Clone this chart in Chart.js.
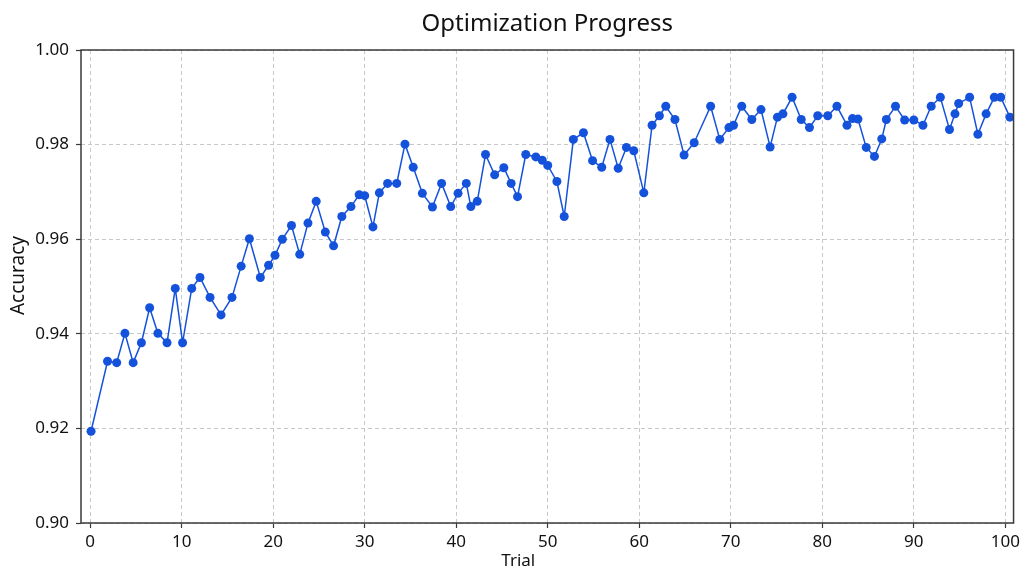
<!DOCTYPE html>
<html>
<head>
<meta charset="utf-8">
<script src="https://cdn.jsdelivr.net/npm/chart.js@4"></script>
<style>
  html, body { margin: 0; padding: 0; background: #fff; }
  #wrap { width: 1024px; height: 576px; }
</style>
</head>
<body>
<div id="wrap"><canvas id="myChart" width="1024" height="576"></canvas></div>
<script>
// trial position of each evaluated point
var trials = [0.1, 1.9, 2.9, 3.8, 4.7, 5.6, 6.5, 7.4, 8.4, 9.3,
    10.1, 11.1, 12.0, 13.1, 14.3, 15.5, 16.5, 17.4, 18.6, 19.5,
    20.2, 21.0, 22.0, 22.9, 23.8, 24.7, 25.7, 26.6, 27.5, 28.5,
    29.4, 30.0, 30.9, 31.6, 32.5, 33.5, 34.4, 35.3, 36.3, 37.4,
    38.4, 39.4, 40.2, 41.1, 41.6, 42.3, 43.2, 44.2, 45.2, 46.0,
    46.7, 47.6, 48.7, 49.4, 50.0, 51.0, 51.8, 52.8, 53.9, 54.9,
    55.9, 56.8, 57.7, 58.6, 59.4, 60.5, 61.4, 62.2, 62.9, 63.9,
    64.9, 66.0, 67.8, 68.8, 69.8, 70.3, 71.2, 72.3, 73.3, 74.3,
    75.1, 75.7, 76.7, 77.7, 78.6, 79.5, 80.6, 81.6, 82.7, 83.3,
    83.9, 84.8, 85.7, 86.5, 87.0, 88.0, 89.0, 90.0, 91.0, 91.9,
    92.9, 93.9, 94.5, 94.9, 96.1, 97.0, 97.9, 98.8, 99.5, 100.5];

var accuracy = [0.9194, 0.9342, 0.9339, 0.9401, 0.9339, 0.9381, 0.9455, 0.9401, 0.9381, 0.9496,
    0.9381, 0.9496, 0.9519, 0.9477, 0.9440, 0.9477, 0.9543, 0.9601, 0.9519, 0.9545,
    0.9566, 0.9600, 0.9629, 0.9568, 0.9634, 0.9680, 0.9615, 0.9586, 0.9648, 0.9669,
    0.9694, 0.9692, 0.9626, 0.9698, 0.9718, 0.9718, 0.9801, 0.9752, 0.9697, 0.9668,
    0.9718, 0.9669, 0.9697, 0.9718, 0.9669, 0.9680, 0.9779, 0.9736, 0.9751, 0.9718,
    0.9690, 0.9779, 0.9774, 0.9767, 0.9756, 0.9722, 0.9648, 0.9811, 0.9825, 0.9766,
    0.9752, 0.9811, 0.9750, 0.9794, 0.9787, 0.9698, 0.9841, 0.9861, 0.9881, 0.9853,
    0.9778, 0.9804, 0.9881, 0.9811, 0.9836, 0.9841, 0.9881, 0.9853, 0.9874, 0.9795,
    0.9858, 0.9865, 0.9900, 0.9853, 0.9836, 0.9861, 0.9861, 0.9881, 0.9841, 0.9855,
    0.9854, 0.9794, 0.9775, 0.9812, 0.9853, 0.9881, 0.9852, 0.9852, 0.9841, 0.9881,
    0.9900, 0.9832, 0.9865, 0.9887, 0.9900, 0.9822, 0.9865, 0.9900, 0.9900, 0.9858];

var xTicks = [0, 10, 20, 30, 40, 50, 60, 70, 80, 90, 100];
var yTicks = [0.90, 0.92, 0.94, 0.96, 0.98, 1.00];
var xTitle = 'Trial';
var yTitle = 'Accuracy';

var points = trials.map(function (t, i) { return { x: t, y: accuracy[i] }; });

var fam = '"Noto Sans", "DejaVu Sans", sans-serif';
var font = { family: fam, size: 17 };

// box round the plot area plus the two axis titles (they sit a bit off centre)
var frame = {
    id: 'frame',
    afterDraw: function (chart) {
        var a = chart.chartArea, c = chart.ctx;
        c.save();
        c.strokeStyle = '#3a3a3a';
        c.lineWidth = 1.5;
        c.strokeRect(a.left, a.top, a.right - a.left, a.bottom - a.top);

        c.fillStyle = '#111';
        c.textAlign = 'center';
        c.textBaseline = 'middle';
        c.font = '17px ' + fam;
        c.fillText(xTitle, (a.left + a.right) / 2 - 29, a.bottom + 38);

        c.translate(19, (a.top + a.bottom) / 2 - 11);
        c.rotate(-Math.PI / 2);
        c.font = '19px ' + fam;
        c.fillText(yTitle, 0, 0);
        c.restore();
    }
};

var ctx = document.getElementById('myChart').getContext('2d');
var myChart = new Chart(ctx, {
    type: 'scatter',
    data: {
        datasets: [{
            label: 'Accuracy',
            data: points,
            showLine: true,
            borderColor: '#1452dc',
            backgroundColor: '#1452dc',
            borderWidth: 1.5,
            pointRadius: 4.5,
            pointBorderWidth: 0,
            tension: 0
        }]
    },
    plugins: [frame],
    options: {
        responsive: false,
        animation: false,
        devicePixelRatio: 1,
        layout: { padding: { left: 0, right: 6, top: 0, bottom: 0 } },
        plugins: {
            legend: { display: false },
            tooltip: { enabled: false },
            title: {
                display: true,
                fullSize: false,
                text: 'Optimization Progress',
                color: '#111',
                font: { family: fam, size: 24, weight: 'normal' },
                padding: { top: 10, bottom: 11.2 }
            }
        },
        scales: {
            x: {
                type: 'linear',
                min: -1,
                max: 100.9,
                afterBuildTicks: function (s) { s.ticks = xTicks.map(function (v) { return { value: v }; }); },
                afterFit: function (s) { s.height = 53; },
                border: { display: false, dash: [4, 3] },
                grid: {
                    color: '#c8c8c8',
                    tickColor: '#3a3a3a',
                    tickBorderDash: [],
                    tickLength: 5,
                    tickWidth: 1.2
                },
                ticks: { color: '#111', font: font, padding: 4, maxRotation: 0 }
            },
            y: {
                min: 0.90,
                max: 1.00,
                afterBuildTicks: function (s) { s.ticks = yTicks.map(function (v) { return { value: v }; }); },
                afterFit: function (s) { s.width = 81; },
                border: { display: false, dash: [4, 3] },
                grid: {
                    color: '#c8c8c8',
                    tickColor: '#3a3a3a',
                    tickBorderDash: [],
                    tickLength: 5,
                    tickWidth: 1.2
                },
                ticks: {
                    color: '#111',
                    font: font,
                    padding: 7,
                    callback: function (v) { return v.toFixed(2); }
                }
            }
        }
    }
});
</script>
</body>
</html>
